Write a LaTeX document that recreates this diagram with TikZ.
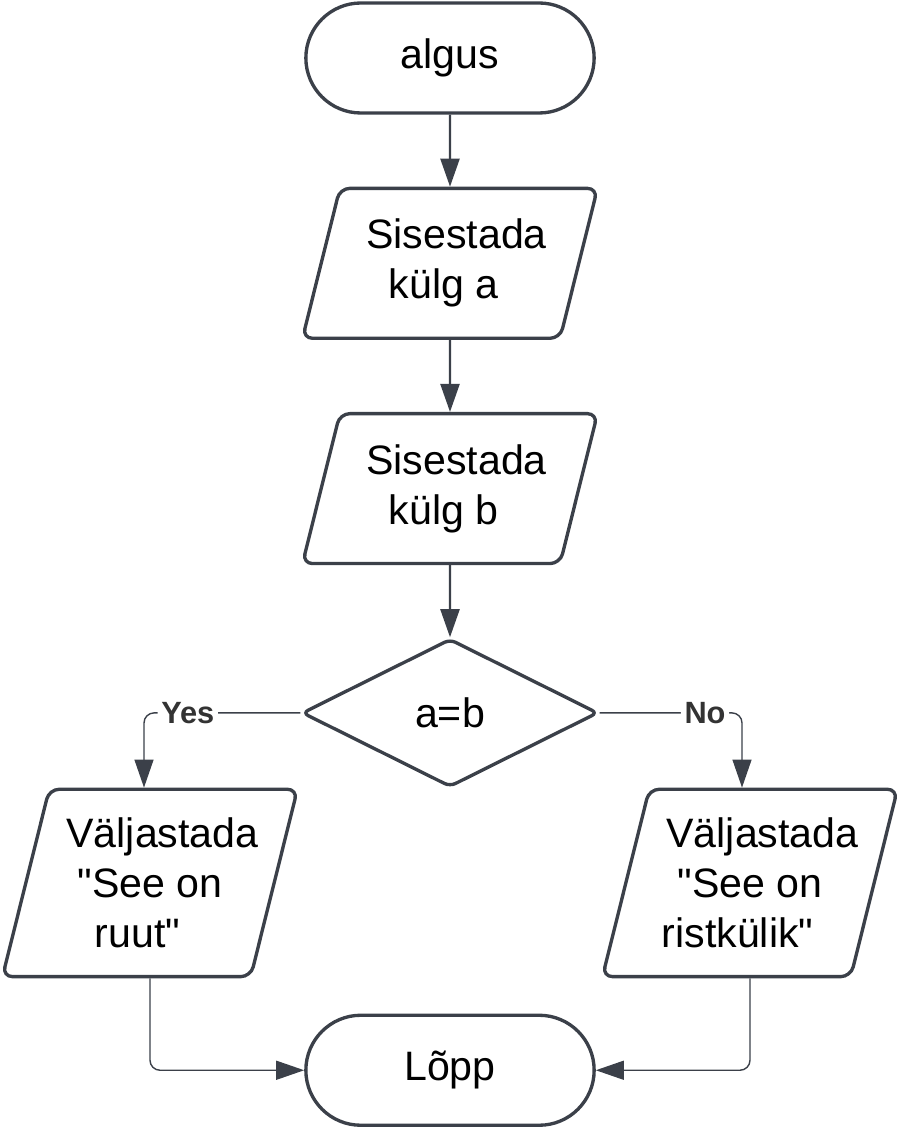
\documentclass[tikz,border=0pt]{standalone}
\usepackage{fontspec}
\setmainfont{Liberation Sans}[Ligatures=TeXOff]
\usetikzlibrary{shapes.geometric, shapes.misc, arrows.meta, positioning}
\definecolor{linegray}{HTML}{3B4049}
\newcommand{\shiftline}[2]{\hspace*{#1}#2\hspace*{-#1}}
\tikzstyle{startstop} = [rounded rectangle, 
minimum width=6cm, 
minimum height=2.2cm,
align=center, 
draw=linegray, line width=1.9pt,
fill=white,
font=\fontsize{23.4}{28.5}\selectfont]
\tikzstyle{io} = [trapezium, 
trapezium left angle=76, 
trapezium right angle=104, 
trapezium stretches body=true,
minimum width=5.9cm, 
inner xsep=0pt, inner ysep=0.615cm,
rounded corners=0.2cm,
align=center, 
draw=linegray, line width=1.9pt,
fill=white,
font=\fontsize{23.4}{28.5}\selectfont]
\tikzstyle{decision} = [diamond, 
minimum width=5.92cm, 
minimum height=2.96cm, 
inner sep=0pt,
rounded corners=0.12cm,
align=center, 
draw=linegray, line width=1.9pt,
fill=white,
font=\fontsize{23.4}{28.5}\selectfont]
\tikzstyle{arrow} = [line width=1.3pt, draw=linegray, -{Triangle[length=0.56cm,width=0.38cm]}]
\tikzstyle{branch} = [arrow, line width=0.8pt, rounded corners=0.2cm]
\tikzstyle{answer} = [fill=white, text=black!80, inner sep=2pt, font=\fontsize{17.5}{20}\selectfont\bfseries]

\begin{document}
\begin{tikzpicture}[node distance=1.44cm]
\useasboundingbox (0,0) rectangle (18,-22.58);

\node (start) [startstop] at (9,-1.16) {algus};
\node (in1) [io, below=of start] {\shiftline{0.13cm}{Sisestada}\\ \shiftline{-0.13cm}{külg a}};
\node (in2) [io, below=of in1] {\shiftline{0.13cm}{Sisestada}\\ \shiftline{-0.13cm}{külg b}};
\node (dec) [decision, below=of in2] {a=b};
\node (outL) [io, inner ysep=0.57cm, below=-0.02cm of dec, xshift=-6cm] {\shiftline{0.25cm}{Väljastada}\\ "See on\\ \shiftline{-0.25cm}{ruut"}};
\node (outR) [io, inner ysep=0.57cm, below=-0.02cm of dec, xshift=6cm] {\shiftline{0.25cm}{Väljastada}\\ "See on\\ \shiftline{-0.25cm}{ristkülik"}};
\node (stop) [startstop, below=4.5cm of dec] {Lõpp};

\draw [arrow] (start) -- (in1);
\draw [arrow] (in1) -- (in2);
\draw [arrow] (in2) -- (dec);
\draw [branch] (dec.west) -| node[answer, pos=0.36] {Yes} ([xshift=-0.12cm]outL.north);
\draw [branch] (dec.east) -| node[answer, pos=0.37] {No} ([xshift=-0.16cm]outR.north);
\draw [branch] (outL.south) |- (stop.west);
\draw [branch] (outR.south) |- (stop.east);
\end{tikzpicture}
\end{document}
